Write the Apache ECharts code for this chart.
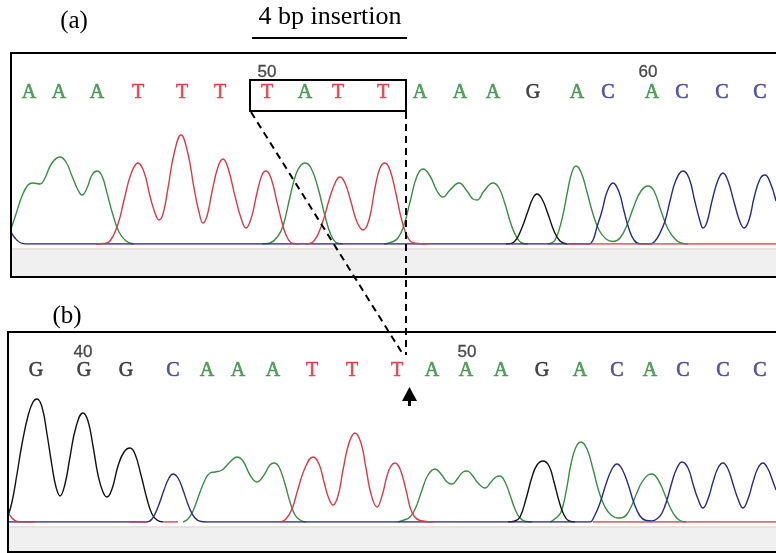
<!DOCTYPE html>
<html><head><meta charset="utf-8">
<script src="https://cdn.jsdelivr.net/npm/echarts@6/dist/echarts.min.js"></script>
<style>html,body{margin:0;padding:0;background:#fff}#c{width:776px;height:553px}</style>
</head><body><div id="c"></div>
<script>
// ---------- Panel (a): base calls ----------
const basesA   = ['A','A','A','T','T','T','T','A','T','T','A','A','A','G','A','C','A','C','C','C'];
const basePosA = [29,59,97,138,182,220,267,305,338,383,420,460,493,533,577,608,652,682,722,760];
const numLabelsA = ['50','60'];
const numPosA    = [267,648];

// ---------- Panel (b): base calls ----------
const basesB   = ['G','G','G','C','A','A','A','T','T','T','A','A','A','G','A','C','A','C','C','C'];
const basePosB = [36,84,126,173,207,238,273,312,352,397,432,466,501,542,580,617,650,683,723,760];
const numLabelsB = ['40','50'];
const numPosB    = [83,467];

// ---------- Panel (a): trace signal [scan, intensity] ----------
const greenA = [
 [[11,150],[16,300],[22,480],[28,590],[33,610],[40,600],[44,640],[52,810],[60,870],[66,820],[72,680],[78,540],[82,490],[87,560],[92,690],[97,730],[102,680],[107,510],[113,290],[119,120],[126,30],[134,0]],
 [[262,0],[270,10],[278,80],[283,180],[290,470],[296,700],[301,790],[305,810],[311,760],[318,560],[325,280],[331,90],[337,10],[343,0]],
 [[384,0],[392,20],[398,60],[404,190],[410,420],[417,680],[423,750],[430,680],[437,530],[443,470],[450,540],[459,610],[467,530],[473,450],[477,440],[484,530],[493,610],[499,560],[505,400],[511,200],[517,60],[522,10],[528,0]],
 [[548,0],[555,40],[562,250],[568,550],[572,720],[576,780],[581,720],[587,520],[593,300],[599,140],[606,50],[613,25],[620,60],[627,190],[634,380],[641,530],[648,580],[654,530],[661,330],[668,150],[675,50],[681,10],[688,0]]
];
const redA = [
 [[96,0],[104,5],[110,30],[118,200],[125,480],[131,700],[138,810],[144,720],[150,480],[155,310],[159,240],[163,300],[168,560],[174,900],[181,1090],[188,900],[194,560],[199,320],[203,210],[207,280],[212,520],[218,770],[223,850],[228,760],[235,480],[241,260],[246,160],[251,250],[257,510],[262,690],[266,730],[271,660],[277,420],[283,180],[288,50],[293,5],[300,0]],
 [[306,0],[314,30],[322,200],[330,470],[336,630],[340,670],[345,610],[351,420],[357,220],[363,140],[369,240],[375,560],[380,760],[385,810],[390,740],[396,500],[402,230],[408,60],[414,10],[427,0]],
 [[567,0],[776,0]]
];
const blackA = [
 [[506,0],[514,20],[521,140],[528,330],[533,460],[537,500],[542,450],[548,300],[554,130],[560,30],[567,0]]
];
const blueA = [
 [[11,120],[15,60],[20,15],[26,0],[300,0],[583,0],[589,0],[593,40],[597,170],[602,330],[607,520],[613,610],[619,520],[624,330],[629,150],[634,40],[640,0],[650,0],[655,30],[660,110],[665,230],[670,430],[676,640],[683,730],[689,660],[695,420],[700,230],[703,160],[707,220],[712,430],[718,640],[723,710],[728,630],[734,420],[740,220],[744,160],[749,240],[754,460],[760,650],[765,690],[770,620],[776,430]]
];

// ---------- Panel (b): trace signal [scan, intensity] ----------
const greenB = [
 [[183,0],[188,30],[193,110],[199,270],[205,420],[210,490],[215,500],[222,520],[230,600],[237,650],[243,610],[250,470],[257,400],[264,470],[270,570],[274,590],[279,550],[285,380],[290,200],[295,70],[300,20],[306,0]],
 [[398,0],[404,20],[410,50],[416,150],[422,320],[428,470],[435,530],[441,480],[447,400],[452,380],[458,440],[463,500],[467,510],[472,470],[478,390],[485,340],[491,400],[496,450],[500,460],[505,400],[510,270],[515,130],[520,40],[526,5],[532,0]],
 [[550,0],[556,40],[561,100],[566,300],[571,580],[576,750],[581,800],[587,730],[593,530],[599,300],[605,150],[611,70],[618,40],[624,50],[630,130],[636,270],[642,400],[648,470],[652,480],[657,440],[663,320],[669,170],[675,60],[680,15],[686,0]]
];
const redB = [
 [[8,100],[12,40],[17,5],[22,0],[35,0]],
 [[130,0],[147,0]],
 [[163,0],[178,0]],
 [[280,0],[286,30],[292,130],[298,330],[305,540],[313,650],[319,580],[324,400],[329,230],[333,170],[338,260],[343,520],[349,790],[355,890],[361,790],[366,540],[371,280],[377,150],[382,260],[387,460],[391,560],[395,590],[400,530],[406,320],[410,150],[414,60],[420,15],[433,0]],
 [[593,0],[776,0]]
];
const blackB = [
 [[8,60],[12,200],[17,480],[22,780],[28,1060],[33,1200],[37,1230],[42,1150],[47,880],[52,560],[56,350],[60,260],[65,380],[70,650],[76,950],[83,1090],[88,1010],[93,760],[98,470],[103,300],[107,250],[112,330],[118,560],[124,700],[130,740],[135,680],[141,470],[147,230],[152,80],[157,20],[163,0]],
 [[508,0],[515,10],[520,50],[526,230],[532,450],[537,570],[543,610],[549,560],[554,400],[559,210],[564,70],[569,10],[575,0]]
];
const blueB = [
 [[8,0],[80,0],[140,0],[146,0],[152,30],[158,150],[164,320],[169,440],[173,480],[178,440],[183,320],[189,150],[195,40],[201,5],[207,0],[213,0],[400,0],[584,0],[590,0],[594,50],[600,190],[606,380],[612,530],[617,580],[622,530],[628,380],[634,190],[640,60],[646,15],[652,10],[658,40],[662,90],[667,220],[672,400],[677,540],[682,600],[688,540],[693,380],[698,230],[703,140],[708,230],[713,400],[718,540],[723,590],[728,530],[733,380],[738,230],[743,140],[748,230],[753,400],[758,540],[763,590],[768,530],[772,430],[776,320]]
];

// ---------- styles / layout ----------
const traceColor = {G:'#3a8c46', R:'#d83a4a', K:'#111111', B:'#2a2a86'};
const baseColor  = {A:'#2f8a3c', T:'#e2283a', G:'#1a1a1a', C:'#2e2e8e'};
const LETTER_Y = 1510, NUM_Y_A = 1720, NUM_Y_B = 1700;

const series = [];
function addTrace(segs, color, gi) {
  segs.forEach(seg => series.push({
    type:'line', xAxisIndex:gi, yAxisIndex:gi, data:seg, smooth:0.45,
    showSymbol:false, silent:true, animation:false,
    lineStyle:{color:color, width:1.4}, z:2
  }));
}
[[greenA,'G'],[blackA,'K'],[blueA,'B'],[redA,'R']].forEach(p => addTrace(p[0], traceColor[p[1]], 0));
[[greenB,'G'],[blackB,'K'],[blueB,'B'],[redB,'R']].forEach(p => addTrace(p[0], traceColor[p[1]], 1));

function addLabels(pos, texts, y, gi, colorFn, font, size, stroke) {
  series.push({
    type:'scatter', xAxisIndex:gi, yAxisIndex:gi, silent:true, animation:false,
    symbol:'circle', symbolSize:1, itemStyle:{color:'rgba(0,0,0,0)'},
    data: pos.map((x,i) => ({value:[x,y], label:{color:colorFn(texts[i]), textBorderColor:colorFn(texts[i])}})),
    label:{show:true, position:'inside', fontFamily:font, fontSize:size, textBorderWidth:stroke,
      formatter: p => texts[p.dataIndex]}
  });
}
addLabels(basePosA, basesA, LETTER_Y, 0, b => baseColor[b], 'Liberation Serif', 20, 0.6);
addLabels(basePosB, basesB, LETTER_Y, 1, b => baseColor[b], 'Liberation Serif', 20, 0.6);
addLabels(numPosA, numLabelsA, NUM_Y_A, 0, () => '#222', 'Liberation Sans', 17, 0.3);
addLabels(numPosB, numLabelsB, NUM_Y_B, 1, () => '#222', 'Liberation Sans', 17, 0.3);

const dash = {stroke:'#000', lineWidth:2, lineDash:[7,5]};
const solid = {stroke:'#000', lineWidth:2};
const option = {
  animation:false,
  grid:[{left:11, top:44, width:765, height:200}, {left:8, top:322, width:768, height:200}],
  xAxis:[{type:'value', gridIndex:0, min:11, max:776, show:false},
         {type:'value', gridIndex:1, min:8, max:776, show:false}],
  yAxis:[{type:'value', gridIndex:0, min:0, max:2000, show:false},
         {type:'value', gridIndex:1, min:0, max:2000, show:false}],
  series: series,
  graphic:[
    {type:'rect', z:0, shape:{x:12,y:250,width:764,height:26}, style:{fill:'#f0f0f0'}},
    {type:'line', z:0, shape:{x1:12,y1:249,x2:776,y2:249}, style:{stroke:'#d4c4bd', lineWidth:1}},
    {type:'rect', z:0, shape:{x:9,y:528,width:767,height:23}, style:{fill:'#f0f0f0'}},
    {type:'line', z:0, shape:{x1:9,y1:527,x2:776,y2:527}, style:{stroke:'#d4c4bd', lineWidth:1}},
    {type:'line', z:50, shape:{x1:10,y1:53,x2:776,y2:53}, style:solid},
    {type:'line', z:50, shape:{x1:11,y1:53,x2:11,y2:277}, style:solid},
    {type:'line', z:50, shape:{x1:10,y1:277,x2:776,y2:277}, style:solid},
    {type:'line', z:50, shape:{x1:7,y1:332,x2:776,y2:332}, style:solid},
    {type:'line', z:50, shape:{x1:8,y1:332,x2:8,y2:552}, style:solid},
    {type:'line', z:50, shape:{x1:7,y1:552,x2:776,y2:552}, style:solid},
    {type:'rect', z:60, shape:{x:250,y:80,width:156,height:31}, style:{fill:'none', stroke:'#000', lineWidth:2}},
    {type:'line', z:60, shape:{x1:251,y1:112,x2:404,y2:356}, style:dash},
    {type:'line', z:60, shape:{x1:406,y1:112,x2:406,y2:355}, style:dash},
    {type:'polygon', z:60, shape:{points:[[402,401],[417,401],[409.5,387]]}, style:{fill:'#000'}},
    {type:'rect', z:60, shape:{x:408,y:399,width:3,height:7}, style:{fill:'#000'}},
    {type:'text', z:60, style:{text:'(a)', x:74, y:21, fill:'#000', font:'25px "Liberation Serif"', align:'center', verticalAlign:'middle'}},
    {type:'text', z:60, style:{text:'(b)', x:67, y:316, fill:'#000', font:'25px "Liberation Serif"', align:'center', verticalAlign:'middle'}},
    {type:'text', z:60, style:{text:'4 bp insertion', x:330, y:17, fill:'#000', font:'26px "Liberation Serif"', align:'center', verticalAlign:'middle'}},
    {type:'line', z:60, shape:{x1:252,y1:38,x2:407,y2:38}, style:solid}
  ]
};
const chart = echarts.init(document.getElementById('c'), null, {renderer:'canvas'});
chart.setOption(option);
</script>
</body></html>
